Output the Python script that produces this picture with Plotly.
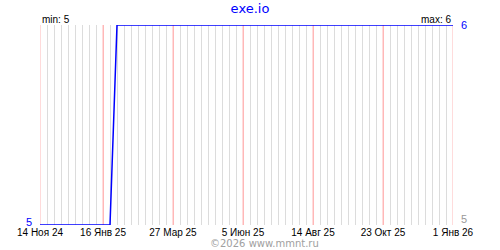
import pandas as pd
import plotly.graph_objects as go

# ---- data ----
dates = pd.date_range("2024-11-14", "2026-01-01", freq="7D")
values = [5, 5, 5, 5, 5, 5, 5, 5, 5, 5, 5,
          6, 6, 6, 6, 6, 6, 6, 6, 6, 6,
          6, 6, 6, 6, 6, 6, 6, 6, 6, 6,
          6, 6, 6, 6, 6, 6, 6, 6, 6, 6,
          6, 6, 6, 6, 6, 6, 6, 6, 6, 6,
          6, 6, 6, 6, 6, 6, 6, 6, 6]
tick_dates = ["2024-11-14", "2025-01-16", "2025-03-27", "2025-06-05",
              "2025-08-14", "2025-10-23", "2026-01-01"]
tick_labels = ["14 Ноя 24", "16 Янв 25", "27 Мар 25", "5 Июн 25",
               "14 Авг 25", "23 Окт 25", "1 Янв 26"]
title = "exe.io"
min_val = min(values)
max_val = max(values)

BLUE = "#0000ff"
PINK = "#ffb8b8"
FONT = "Liberation Sans"

major = set(pd.to_datetime(tick_dates))
minor_vals = [d.strftime("%Y-%m-%d") for d in dates if d not in major]

fig = go.Figure()
fig.add_trace(go.Scatter(
    x=dates[:len(values)], y=values, mode="lines",
    line=dict(color=BLUE, width=1.5), cliponaxis=False,
    hoverinfo="skip", showlegend=False,
))

fig.update_layout(
    width=500, height=250,
    margin=dict(l=40, r=47, t=25, b=25),
    paper_bgcolor="white", plot_bgcolor="white",
    title=dict(text=title, x=0.5, xref="container", xanchor="center",
               y=1 - 8 / 250, yref="container", yanchor="middle",
               font=dict(family="DejaVu Sans", size=13, color=BLUE)),
    xaxis=dict(
        type="date", range=[tick_dates[0], tick_dates[-1]],
        tickmode="array", tickvals=tick_dates, ticktext=tick_labels,
        tickfont=dict(family=FONT, size=10, color="black"),
        showgrid=True, gridcolor=PINK, gridwidth=1,
        zeroline=False, showline=False, ticks="",
        minor=dict(tickmode="array", tickvals=minor_vals, showgrid=True,
                   gridcolor="#dcdcdc", gridwidth=1),
    ),
    yaxis=dict(
        range=[min_val, max_val], tickmode="array",
        tickvals=[min_val, max_val], showticklabels=False,
        showgrid=True, gridcolor="#dcdcdc", zeroline=False,
        showline=False, ticks="",
    ),
)

# pink 10-week markers, placed through the x scale
for d in tick_dates:
    fig.add_shape(type="line", xref="x", yref="paper", x0=d, x1=d,
                  y0=0, y1=1, layer="below",
                  line=dict(color=PINK, width=1))

ann = []
ann.append(dict(text=f"min: {min_val}", xref="paper", yref="paper", x=0, y=1,
                xanchor="left", yanchor="bottom", yshift=-2, showarrow=False,
                font=dict(family=FONT, size=10, color="black")))
ann.append(dict(text=f"max: {max_val}", xref="paper", yref="paper", x=1, y=1,
                xanchor="right", yanchor="bottom", yshift=-2, showarrow=False,
                font=dict(family=FONT, size=10, color="black")))
ann.append(dict(text=str(min_val), xref="paper", yref="y", x=0, y=min_val,
                xanchor="right", yanchor="middle", xshift=-6, yshift=3,
                showarrow=False,
                font=dict(family=FONT, size=11, color=BLUE)))
ann.append(dict(text=str(max_val), xref="paper", yref="y", x=1, y=max_val,
                xanchor="left", yanchor="middle", xshift=6, showarrow=False,
                font=dict(family=FONT, size=11, color=BLUE)))
ann.append(dict(text=str(min_val), xref="paper", yref="y", x=1, y=min_val,
                xanchor="left", yanchor="bottom", xshift=6, yshift=-2,
                showarrow=False,
                font=dict(family=FONT, size=11, color="#999999")))
ann.append(dict(text="©2026 www.mmnt.ru", xref="paper", yref="paper",
                x=(264 - 40) / 413, y=-(243 - 225) / 200,
                xanchor="center", yanchor="middle", showarrow=False,
                font=dict(family="DejaVu Sans", size=10, color="#a0a0a0")))
fig.update_layout(annotations=ann)

fig.write_html("out.html")
